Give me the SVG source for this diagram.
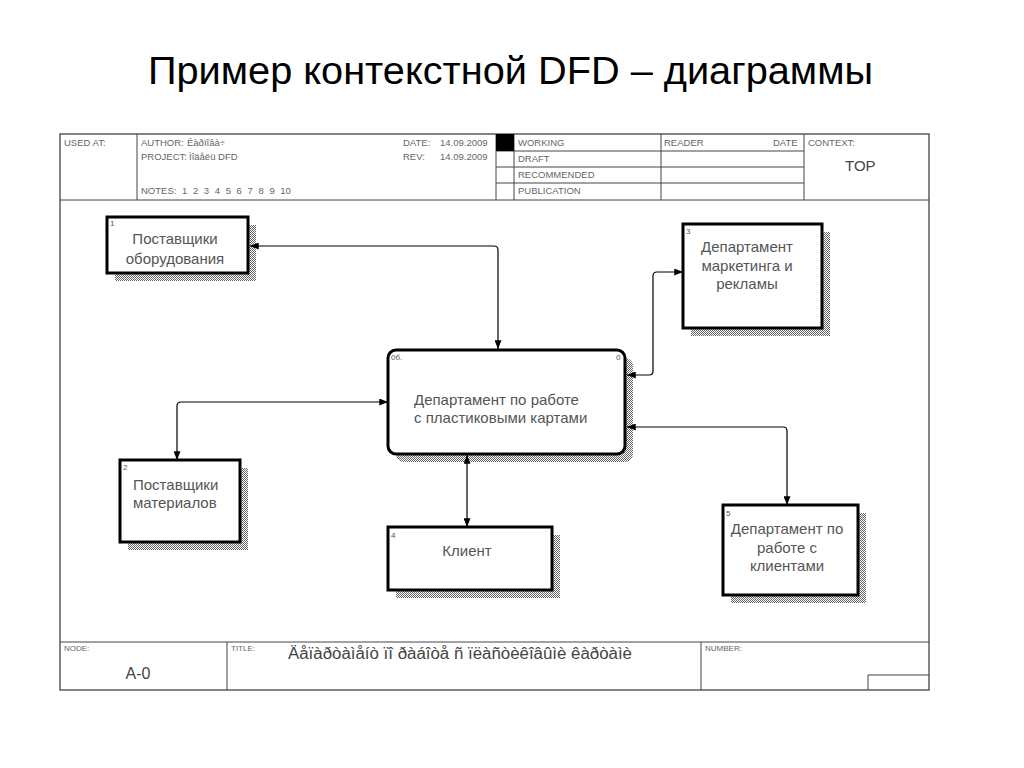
<svg xmlns="http://www.w3.org/2000/svg" width="1024" height="768" viewBox="0 0 1024 768">
<defs>
<pattern id="hatch" width="2" height="2" patternUnits="userSpaceOnUse">
<rect width="2" height="2" fill="#fff"/>
<rect x="0" y="0" width="1" height="1" fill="#666"/>
<rect x="1" y="1" width="1" height="1" fill="#666"/>
</pattern>
<marker id="ah" viewBox="0 0 10 8" refX="10" refY="4" markerWidth="9" markerHeight="7" markerUnits="userSpaceOnUse" orient="auto-start-reverse">
<path d="M0,0 L10,4 L0,8 Z" fill="#000"/>
</marker>
</defs>
<style>
.frame{fill:none;stroke:#444;stroke-width:1.3}
.ln{stroke:#444;stroke-width:1;fill:none}
.hd{font-family:"Liberation Sans",Arial,sans-serif;font-size:9.5px;fill:#666}
.sm{font-family:"Liberation Sans",Arial,sans-serif;font-size:8px;fill:#666}
.box{fill:#fff;stroke:#000;stroke-width:3}
.sh{fill:url(#hatch)}
.num{font-family:"Liberation Sans",Arial,sans-serif;font-size:8px;fill:#555}
.lbl{font-family:"Liberation Sans",Arial,sans-serif;font-size:15px;fill:#555}
.conn{fill:none;stroke:#000;stroke-width:1.2;marker-start:url(#ah);marker-end:url(#ah)}
</style>
<rect width="1024" height="768" fill="#fff"/>
<text x="148" y="84" font-family="'Liberation Sans',Arial,sans-serif" font-size="38" fill="#000" textLength="725" lengthAdjust="spacingAndGlyphs">Пример контекстной DFD – диаграммы</text>

<g id="frame">
<rect class="frame" x="60" y="134" width="869" height="556"/>
<line class="ln" x1="60" y1="200" x2="929" y2="200"/>
<line class="ln" x1="60" y1="642" x2="929" y2="642"/>
<line class="ln" x1="137" y1="134" x2="137" y2="200"/>
<line class="ln" x1="496" y1="134" x2="496" y2="200"/>
<line class="ln" x1="514" y1="134" x2="514" y2="200"/>
<line class="ln" x1="661" y1="134" x2="661" y2="200"/>
<line class="ln" x1="804" y1="134" x2="804" y2="200"/>
<line class="ln" x1="496" y1="151" x2="804" y2="151"/>
<line class="ln" x1="496" y1="167" x2="804" y2="167"/>
<line class="ln" x1="496" y1="183" x2="804" y2="183"/>
<rect x="496" y="134" width="18" height="17" fill="#000"/>
<text class="hd" x="64" y="146">USED AT:</text>
<text class="hd" x="141" y="146">AUTHOR:</text>
<text class="hd" x="187" y="146">Êàðïîâà÷</text>
<text class="hd" x="141" y="160">PROJECT:</text>
<text class="hd" x="189" y="160">Ìîäåëü DFD</text>
<text class="hd" x="141" y="194" word-spacing="3">NOTES:  1 2 3 4 5 6 7 8 9 10</text>
<text class="hd" x="403" y="146">DATE:</text>
<text class="hd" x="440" y="146">14.09.2009</text>
<text class="hd" x="403" y="160">REV:</text>
<text class="hd" x="440" y="160">14.09.2009</text>
<text class="hd" x="518" y="146">WORKING</text>
<text class="hd" x="518" y="162">DRAFT</text>
<text class="hd" x="518" y="178">RECOMMENDED</text>
<text class="hd" x="518" y="194">PUBLICATION</text>
<text class="hd" x="664" y="146">READER</text>
<text class="hd" x="773" y="146">DATE</text>
<text class="hd" x="808" y="146">CONTEXT:</text>
<text x="845" y="171" font-family="'Liberation Sans',Arial,sans-serif" font-size="15" fill="#444">TOP</text>
<line class="ln" x1="227" y1="642" x2="227" y2="690"/>
<line class="ln" x1="701" y1="642" x2="701" y2="690"/>
<polyline class="ln" points="868,690 868,675 929,675"/>
<text class="sm" x="64" y="651">NODE:</text>
<text class="sm" x="231" y="651">TITLE:</text>
<text class="sm" x="705" y="651">NUMBER:</text>
<text x="138" y="679" text-anchor="middle" font-family="'Liberation Sans',Arial,sans-serif" font-size="16" fill="#444">A-0</text>
<text x="288" y="659" font-family="'Liberation Sans',Arial,sans-serif" font-size="16" fill="#444" textLength="344" lengthAdjust="spacingAndGlyphs">Äåïàðòàìåíò ïî ðàáîòå  ñ ïëàñòèêîâûìè êàðòàìè</text>
</g>

<g id="node1">
<rect class="sh" x="115" y="225" width="141" height="56"/>
<rect class="box" x="107" y="217" width="141" height="56"/>
<text class="num" x="110" y="226">1</text>
<text class="lbl" x="175" y="244" text-anchor="middle">Поставщики</text>
<text class="lbl" x="175" y="264" text-anchor="middle">оборудования</text>
</g>

<g id="node3">
<rect class="sh" x="691" y="232" width="139" height="104"/>
<rect class="box" x="683" y="224" width="139" height="104"/>
<text class="num" x="686" y="234">3</text>
<text class="lbl" x="747" y="252" text-anchor="middle">Департамент</text>
<text class="lbl" x="747" y="271" text-anchor="middle">маркетинга и</text>
<text class="lbl" x="747" y="289" text-anchor="middle">рекламы</text>
</g>

<g id="node0">
<rect class="sh" x="396" y="358" width="237" height="104" rx="8"/>
<rect class="box" x="388" y="350" width="237" height="104" rx="8" stroke-width="2.5"/>
<text class="num" x="391" y="360">0б.</text>
<text class="num" x="616" y="360">0</text>
<text class="lbl" x="414" y="405">Департамент по работе</text>
<text class="lbl" x="414" y="423">с пластиковыми картами</text>
</g>

<g id="node2">
<rect class="sh" x="128" y="468" width="120" height="82"/>
<rect class="box" x="120" y="460" width="120" height="82"/>
<text class="num" x="123" y="470">2</text>
<text class="lbl" x="133" y="490">Поставщики</text>
<text class="lbl" x="133" y="508">материалов</text>
</g>

<g id="node4">
<rect class="sh" x="396" y="535" width="164" height="63"/>
<rect class="box" x="388" y="527" width="164" height="63"/>
<text class="num" x="391" y="538">4</text>
<text class="lbl" x="467" y="556" text-anchor="middle">Клиент</text>
</g>

<g id="node5">
<rect class="sh" x="731" y="513" width="135" height="90"/>
<rect class="box" x="723" y="505" width="135" height="90"/>
<text class="num" x="726" y="516">5</text>
<text class="lbl" x="787" y="534" text-anchor="middle">Департамент по</text>
<text class="lbl" x="787" y="553" text-anchor="middle">работе с</text>
<text class="lbl" x="787" y="571" text-anchor="middle">клиентами</text>
</g>

<g id="connectors">
<path class="conn" d="M250,246 L494,246 Q498,246 498,250 L498,349"/>
<path class="conn" d="M627,375 L649,375 Q653,375 653,371 L653,276 Q653,272 657,272 L683,272"/>
<path class="conn" d="M388,402 L181,402 Q177,402 177,406 L177,460"/>
<path class="conn" d="M467,455 L467,527"/>
<path class="conn" d="M627,427 L783,427 Q787,427 787,431 L787,505"/>
</g>
</svg>
